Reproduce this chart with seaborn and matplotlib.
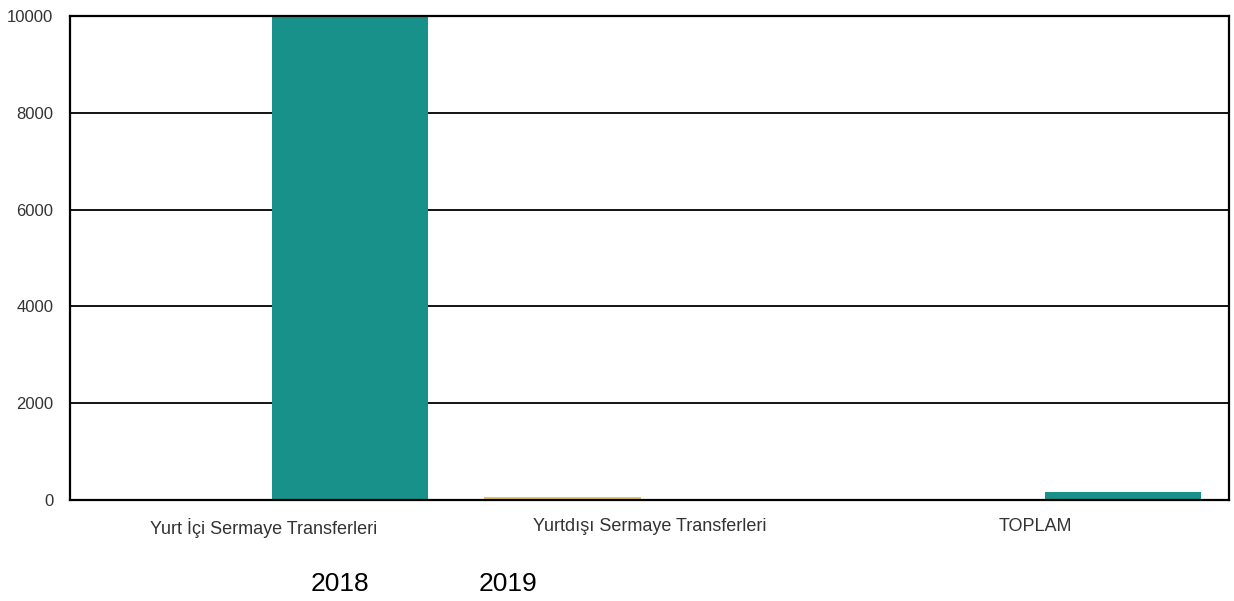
import matplotlib
matplotlib.use("Agg")
import matplotlib.pyplot as plt
import seaborn as sns
import pandas as pd

# data
categories = ['Yurt İçi Sermaye Transferleri', 'Yurtdışı Sermaye Transferleri', 'TOPLAM']
years = ['2018', '2019']
values_2018 = [0, 60, 0]
values_2019 = [10000, 0, 170]
y_ticks = [0, 2000, 4000, 6000, 8000, 10000]

df = pd.DataFrame({
    'Kategori': categories * 2,
    'Yil': [years[0]] * 3 + [years[1]] * 3,
    'Deger': values_2018 + values_2019,
})

sns.set_theme(style='white')
plt.rcParams['font.family'] = ['Liberation Sans', 'DejaVu Sans']

fig = plt.figure(figsize=(12.34, 6.01), dpi=100)
ax = fig.add_axes([70 / 1234, 1 - 500 / 601, (1229 - 70) / 1234, (500 - 16) / 601])

palette = {'2018': '#e2c65a', '2019': '#17918a'}
sns.barplot(data=df, x='Kategori', y='Deger', hue='Yil', hue_order=years,
            order=categories, palette=palette, width=0.9, gap=0.1,
            saturation=1, linewidth=0, ax=ax, legend=True, zorder=2)

ax.set_ylim(0, 10000)
ax.set_yticks(y_ticks)
ax.set_yticklabels([str(t) for t in y_ticks], fontsize=12, color='#333333')
ax.tick_params(axis='x', labelsize=13, colors='#333333', pad=13, length=0)
ax.tick_params(axis='y', pad=12, length=0)
ax.set_xlabel('')
ax.set_ylabel('')
for t in y_ticks[1:]:
    ax.axhline(t, color='black', lw=1.3, zorder=1)
for s in ax.spines.values():
    s.set_color('black')
    s.set_linewidth(1.6)
    s.set_zorder(3)

handles, labels = ax.get_legend_handles_labels()
ax.get_legend().remove()
leg = fig.legend(handles, labels, ncol=2, loc='center',
                 bbox_to_anchor=(424 / 1234, 1 - 584 / 601), frameon=False,
                 handlelength=0, handletextpad=0, columnspacing=4.15,
                 fontsize=19, labelcolor='black')
for h in leg.legend_handles:
    h.set_visible(False)

fig.savefig('out.png', dpi=100)
